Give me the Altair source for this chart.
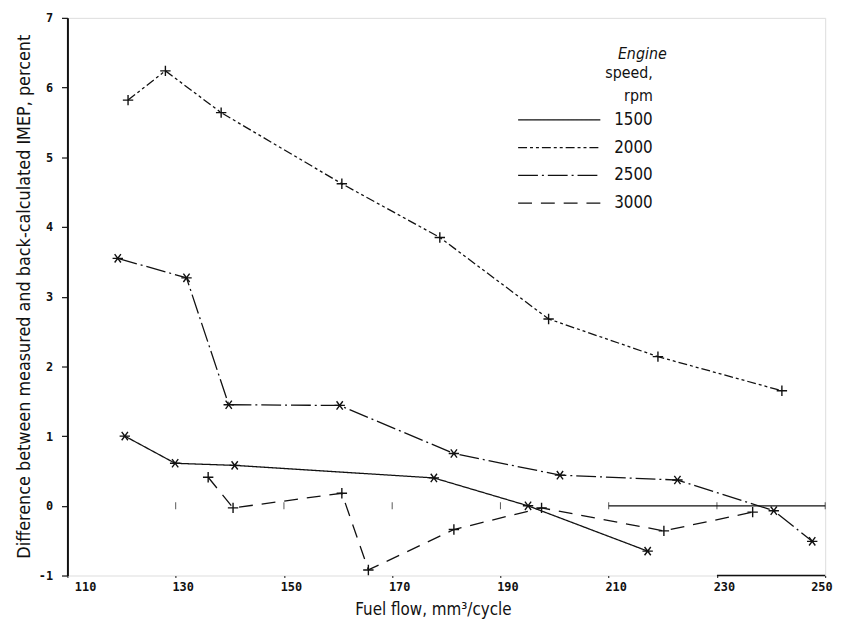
import altair as alt
import pandas as pd

# ---- data ----
speeds = ["1500", "2000", "2500", "3000"]
fuel_1500 = [120.6, 129.9, 140.9, 177.7, 195.1, 217.2]
diff_1500 = [1.00, 0.61, 0.58, 0.40, 0.00, -0.65]
fuel_2000 = [121.2, 128.1, 138.4, 160.7, 178.8, 198.9, 219.1, 242.0]
diff_2000 = [5.82, 6.24, 5.64, 4.62, 3.85, 2.68, 2.14, 1.65]
fuel_2500 = [119.3, 132.0, 139.8, 160.3, 181.4, 201.0, 222.7, 240.5, 247.6]
diff_2500 = [3.55, 3.27, 1.45, 1.44, 0.75, 0.44, 0.37, -0.07, -0.51]
fuel_3000 = [136.0, 140.6, 160.7, 165.6, 181.4, 197.6, 220.2, 236.6]
diff_3000 = [0.41, -0.03, 0.18, -0.92, -0.34, -0.03, -0.36, -0.09]

x_ticks = [110, 130, 150, 170, 190, 210, 230, 250]
y_ticks = [-1, 0, 1, 2, 3, 4, 5, 6, 7]

# remnants of the zero line / bottom axis in the scan
zero_seg = {"x": [210], "x2": [250], "y": [0]}
bottom_seg = {"x": [230], "x2": [250], "y": [-1]}
zero_ticks_faint = [130, 150, 170, 190]
zero_ticks_solid = [210, 230, 250]

rows = []
for sp, fx, dy in [("1500", fuel_1500, diff_1500), ("2000", fuel_2000, diff_2000),
                   ("2500", fuel_2500, diff_2500), ("3000", fuel_3000, diff_3000)]:
    for i, (a, b) in enumerate(zip(fx, dy)):
        rows.append({"speed": sp, "marker": "m" + sp, "fuel": a, "diff": b, "order": i})
df = pd.DataFrame(rows)

INK = "#111111"
LABEL_FONT = "DejaVu Sans Mono"
TEXT_FONT = "DejaVu Sans Condensed, Liberation Sans Narrow, Noto Sans, sans-serif"

dashes = [[1, 0], [9, 3, 3, 3, 3, 3], [20, 4, 2, 4], [14, 9]]
plus = "M-1,0H1M0,-1V1"
aster = "M-1,0H1M-0.6,-0.8L0.6,0.8M-0.6,0.8L0.6,-0.8"
shapes = [aster, plus, aster, plus]
legend_line = "M-8.3,0H0"

xs = alt.Scale(domain=[110, 250], nice=False, zero=False)
ys = alt.Scale(domain=[-1, 7], nice=False, zero=False)

x_enc = alt.X("fuel:Q", scale=xs, axis=alt.Axis(
    values=x_ticks, title="Fuel flow, mm³/cycle", domain=False,
    tickSize=4, tickDash=[2, 2], tickColor=INK, labelPadding=2, labelOffset=7,
    labelFont=LABEL_FONT, labelFontSize=12, labelFontWeight="bold", labelColor=INK,
    titleFont=TEXT_FONT, titleFontSize=17, titleFontWeight="normal", titleColor=INK,
    titleX=369, titleY=34, titleBaseline="middle", grid=False))
y_enc = alt.Y("diff:Q", scale=ys, axis=alt.Axis(
    values=y_ticks, title="Difference between measured and back-calculated IMEP, percent",
    domainColor=INK, domainWidth=2, tickColor=INK, tickSize=6, tickWidth=1.2,
    labelPadding=9, labelExpr="toString(datum.value)",
    labelFont=LABEL_FONT, labelFontSize=12, labelFontWeight="bold", labelColor=INK,
    titleFont=TEXT_FONT, titleFontSize=18, titleFontWeight="normal", titleColor=INK,
    titleX=-43, titleY=281, titleAngle=-90, titleBaseline="middle", titleAlign="center",
    grid=False))

lines = alt.Chart(df).mark_line(color=INK, strokeWidth=1.3).encode(
    x=x_enc, y=y_enc, order="order:Q",
    strokeDash=alt.StrokeDash("speed:N", scale=alt.Scale(domain=speeds, range=dashes),
                              legend=alt.Legend(
                                  title=["speed,", "rpm"], orient="none",
                                  legendX=527, legendY=48,
                                  titleFont=TEXT_FONT, titleFontSize=16,
                                  titleFontWeight="normal", titleColor=INK,
                                  titleLineHeight=23, titleAnchor="end", titleAlign="right",
                                  titlePadding=5,
                                  labelFont=TEXT_FONT, labelFontSize=17, labelColor=INK,
                                  labelOffset=3, rowPadding=9,
                                  symbolType=legend_line, symbolSize=400,
                                  symbolStrokeWidth=1.3, symbolStrokeColor=INK)))

points = alt.Chart(df).mark_point(filled=False, color=INK, strokeWidth=1.4, size=110, opacity=1).encode(
    x="fuel:Q", y="diff:Q",
    shape=alt.Shape("marker:N", scale=alt.Scale(domain=["m" + s for s in speeds], range=shapes),
                    legend=None))

zero_line = alt.Chart(pd.DataFrame(zero_seg)).mark_rule(color=INK, strokeWidth=1.2).encode(
    x="x:Q", x2="x2:Q", y="y:Q")
bottom_line = alt.Chart(pd.DataFrame(bottom_seg)).mark_rule(color=INK, strokeWidth=1.6).encode(
    x="x:Q", x2="x2:Q", y="y:Q")
zt_faint = alt.Chart(pd.DataFrame({"x": zero_ticks_faint, "y": [0] * len(zero_ticks_faint)})).mark_tick(
    orient="vertical", size=7, thickness=1, color=INK, strokeDash=[2, 2]).encode(x="x:Q", y="y:Q")
zt_solid = alt.Chart(pd.DataFrame({"x": zero_ticks_solid, "y": [0] * len(zero_ticks_solid)})).mark_tick(
    orient="vertical", size=7, thickness=1, color=INK).encode(x="x:Q", y="y:Q")

engine = alt.Chart(pd.DataFrame({"t": ["Engine"]})).mark_text(
    font=TEXT_FONT, fontSize=16, fontStyle="italic", color=INK, align="right",
    baseline="middle").encode(text="t:N", x=alt.value(605), y=alt.value(37))

chart = alt.layer(zero_line, bottom_line, zt_faint, zt_solid, lines, points, engine).properties(
    width=765, height=563,
    autosize=alt.AutoSizeParams(type="none"),
    padding={"left": 60, "top": 7, "right": 20, "bottom": 46},
).configure_view(stroke=None).configure(background="white")

chart.save("out.html", embed_options={"renderer": "svg", "actions": False})
